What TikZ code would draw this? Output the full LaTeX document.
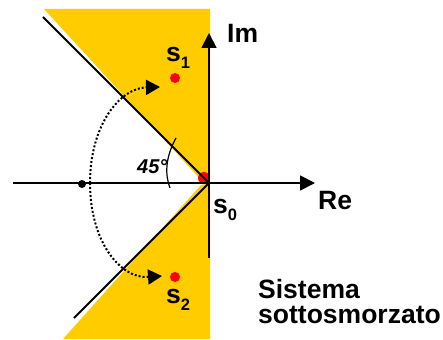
\documentclass[tikz,border=0pt]{standalone}
\usepackage{fontspec}
\setmainfont{Liberation Sans}
\usetikzlibrary{arrows.meta}
\definecolor{gold}{HTML}{FFCC00}
\definecolor{pole}{HTML}{FF0000}
\tikzset{
  lbl/.style={inner sep=0pt,anchor=base west,font=\fontsize{26.5}{26.5}\selectfont\bfseries},
  axis/.style={line width=1.8pt,-{Triangle[length=15pt,width=15pt]}},
  edge/.style={line width=1.8pt},
  reddot/.style={circle,fill=pole,inner sep=0pt,minimum size=10pt},
  curve/.style={line width=2pt,dash pattern=on 2pt off 2pt,-{Triangle[length=14pt,width=15pt]}},
}
\newcommand{\subs}[1]{{\fontsize{16.5}{16.5}\selectfont\raisebox{-7pt}{#1}}}
\begin{document}
\begin{tikzpicture}[x=1pt,y=-1pt]
\useasboundingbox (0,0) rectangle (443,339);
% yellow regions
\fill[gold] (44,9) -- (210,9) -- (210,183) -- (204,183) -- cycle;
\fill[gold] (63,339) -- (201,185) -- (210,183) -- (210,339) -- cycle;
\coordinate (O) at (209,183);
% red pole at origin
\node[reddot,minimum size=12pt] (s0dot) at (204,178) {};
% diagonal lines
\coordinate (UL) at (43,17);
\coordinate (LL) at (74,318);
\draw[edge] (UL) -- (O);
\draw[edge] (LL) -- (O);
% axes
\coordinate (ReStart) at (13,183);
\coordinate (ReEnd) at (315,183);
\coordinate (ImStart) at (209,258);
\coordinate (ImEnd) at (209,33);
\draw[axis] (ReStart) -- (ReEnd);
\draw[axis] (ImStart) -- (ImEnd);
% black dot on real axis
\node[circle,fill=black,inner sep=0pt,minimum size=8pt] (wn) at (82,184) {};
% dotted arcs
\coordinate (A0) at (90,183);
\coordinate (A1) at (160,87);
\coordinate (A2) at (162,276);
\draw[curve] (A0) .. controls (90,125) and (120,88) .. (A1);
\draw[curve] (A0) .. controls (90,241) and (120,279) .. (A2);
% angle arc
\coordinate (G1) at (176,138);
\coordinate (G2) at (170,188);
\draw[line width=1.2pt] (G1) .. controls (165,158) and (165,175) .. (G2);
\node[inner sep=0pt,anchor=base west,font=\fontsize{20}{20}\selectfont\bfseries\itshape] (ang) at (137,173) {45°};
% poles
\node[reddot] (s1dot) at (175,78) {};
\node[reddot] (s2dot) at (175,277) {};
% labels
\node[lbl] (s1) at (166,62) {s\subs{1}};
\node[lbl] (s2) at (166,303) {s\subs{2}};
\node[lbl] (s0) at (213,213) {s\subs{0}};
\node[lbl] (im) at (227,43) {Im};
\node[lbl] (re) at (318,209) {Re};
\node[lbl] (sys1) at (258,298) {Sistema};
\node[lbl] (sys2) at (258,323) {sottosmorzato};
\end{tikzpicture}
\end{document}
